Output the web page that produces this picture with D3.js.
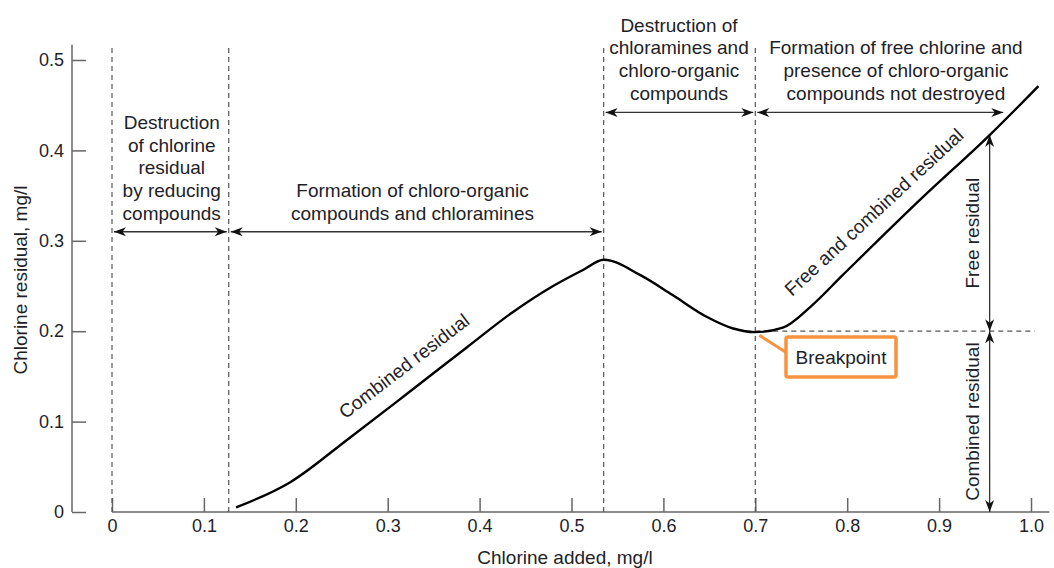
<!DOCTYPE html>
<html>
<head>
<meta charset="utf-8">
<script src="https://cdn.jsdelivr.net/npm/d3@7/dist/d3.min.js"></script>
<style>
  html, body { margin: 0; padding: 0; background: #fff; }
  svg { display: block; }
  text { font-family: "Liberation Sans", Arial, sans-serif; font-size: 19px; fill: #1e2227; }
</style>
</head>
<body>
<svg id="chart" width="1054" height="568"></svg>
<script>
// Breakpoint chlorination curve: chlorine added vs. chlorine residual (mg/l)
const chlorineAdded    = [0.135, 0.194, 0.256, 0.320, 0.386, 0.436, 0.480, 0.513, 0.535, 0.575, 0.610, 0.647, 0.676, 0.700, 0.730, 0.760, 0.795, 0.882, 0.955, 1.008];
const chlorineResidual = [0.005, 0.033, 0.080, 0.130, 0.182, 0.221, 0.250, 0.268, 0.279, 0.262, 0.240, 0.216, 0.203, 0.199, 0.204, 0.227, 0.262, 0.348, 0.417, 0.471];

const xTickValues = [0, 0.1, 0.2, 0.3, 0.4, 0.5, 0.6, 0.7, 0.8, 0.9, 1.0];
const xTickLabels = ["0", "0.1", "0.2", "0.3", "0.4", "0.5", "0.6", "0.7", "0.8", "0.9", "1.0"];
const yTickValues = [0, 0.1, 0.2, 0.3, 0.4, 0.5];
const yTickLabels = ["0", "0.1", "0.2", "0.3", "0.4", "0.5"];

// Zone boundaries (dashed verticals) along the chlorine-added axis
const zoneBounds = [0, 0.127, 0.535, 0.7];
const breakpoint = [0.7, 0.2];
const freeResidualTop = 0.417;
const residualArrowX = 0.955;

// Zone descriptions: [xStart, xEnd, arrowY, textCenterX, lines]
const lowerZones = [
  [0, 0.127, 0.31, 0.065, ["Destruction", "of chlorine", "residual", "by reducing", "compounds"]],
  [0.127, 0.535, 0.31, 0.327, ["Formation of chloro-organic", "compounds and chloramines"]]
];
const upperZones = [
  [0.535, 0.7, 0.442, 0.617, ["Destruction of", "chloramines and", "chloro-organic", "compounds"]],
  [0.7, 0.972, 0.442, 0.853, ["Formation of free chlorine and", "presence of chloro-organic", "compounds not destroyed"]]
];

const svg = d3.select("#chart");
const x = d3.scaleLinear().domain([0, 1]).range([112, 1031]);
const y = d3.scaleLinear().domain([0, 0.5]).range([512, 60]);
const axisColor = "#666";
const dashColor = "#555";

// Arrowhead marker
const defs = svg.append("defs");
defs.append("marker")
  .attr("id", "head")
  .attr("viewBox", "-13 -6 14 12")
  .attr("refX", 0).attr("refY", 0)
  .attr("markerWidth", 14).attr("markerHeight", 12)
  .attr("markerUnits", "userSpaceOnUse")
  .attr("orient", "auto-start-reverse")
  .append("path")
  .attr("d", "M0,0 L-12,-4.5 L-8.5,0 L-12,4.5 Z")
  .attr("fill", "#111");

// Y axis
const yAxis = d3.axisLeft(y).tickValues(yTickValues)
  .tickFormat((d, i) => yTickLabels[i])
  .tickSizeInner(-14).tickSizeOuter(0).tickPadding(8);
const gy = svg.append("g").attr("transform", "translate(72,0)").call(yAxis);
gy.select(".domain").remove();
gy.selectAll(".tick line").attr("stroke", axisColor).attr("stroke-width", 1.5);
gy.selectAll(".tick text").style("font-size", "18px").attr("fill", "#1e2227");
gy.append("line").attr("x1", 0).attr("x2", 0).attr("y1", y(0)).attr("y2", y(0.517))
  .attr("stroke", axisColor).attr("stroke-width", 1.5);

// X axis
const xAxis = d3.axisBottom(x).tickValues(xTickValues)
  .tickFormat((d, i) => xTickLabels[i])
  .tickSizeInner(-14).tickSizeOuter(0).tickPadding(7);
const gx = svg.append("g").attr("transform", `translate(0,${y(0)})`).call(xAxis);
gx.select(".domain").remove();
gx.selectAll(".tick line").attr("stroke", axisColor).attr("stroke-width", 1.5);
gx.selectAll(".tick text").style("font-size", "18px").attr("fill", "#1e2227");
gx.append("line").attr("x1", x(0)).attr("x2", x(1.02)).attr("y1", 0).attr("y2", 0)
  .attr("stroke", axisColor).attr("stroke-width", 1.5);

// Axis titles
svg.append("text").attr("x", 565).attr("y", 557).attr("dy", "0.35em").attr("text-anchor", "middle")
  .text("Chlorine added, mg/l");
svg.append("text").attr("transform", "translate(20,280) rotate(-90)")
  .attr("text-anchor", "middle").attr("dy", "0.35em").text("Chlorine residual, mg/l");

// Dashed zone boundaries
svg.append("g").selectAll("line").data(zoneBounds).join("line")
  .attr("x1", d => x(d)).attr("x2", d => x(d))
  .attr("y1", y(0)).attr("y2", y(0.517))
  .attr("stroke", dashColor).attr("stroke-width", 1.2).attr("stroke-dasharray", "5,4");

// Breakpoint horizontal dashed line
svg.append("line")
  .attr("x1", x(breakpoint[0])).attr("x2", x(1.004))
  .attr("y1", y(breakpoint[1])).attr("y2", y(breakpoint[1]))
  .attr("stroke", dashColor).attr("stroke-width", 1.2).attr("stroke-dasharray", "5,4");

// Zone arrows and descriptions
const lineH = 22.7;
function zone(z, lastLineY) {
  const [x0, x1, ay, tx, lines] = z;
  svg.append("line")
    .attr("x1", x(x0) + 2).attr("x2", x(x1) - 2)
    .attr("y1", y(ay)).attr("y2", y(ay))
    .attr("stroke", "#333").attr("stroke-width", 1.3)
    .attr("marker-start", "url(#head)").attr("marker-end", "url(#head)");
  const cx = x(tx);
  const t = svg.append("text").attr("text-anchor", "middle");
  lines.forEach((s, i) => {
    t.append("tspan").attr("x", cx)
      .attr("y", lastLineY - (lines.length - 1 - i) * lineH)
      .attr("dy", "0.35em").text(s);
  });
}
zone(lowerZones[0], 213);
zone(lowerZones[1], 213);
zone(upperZones[0], 93);
zone(upperZones[1], 93);

// Free / combined residual arrows
svg.append("line")
  .attr("x1", x(residualArrowX)).attr("x2", x(residualArrowX))
  .attr("y1", y(freeResidualTop)).attr("y2", y(breakpoint[1]))
  .attr("stroke", "#333").attr("stroke-width", 1.3)
  .attr("marker-start", "url(#head)").attr("marker-end", "url(#head)");
svg.append("line")
  .attr("x1", x(residualArrowX)).attr("x2", x(residualArrowX))
  .attr("y1", y(breakpoint[1])).attr("y2", y(0))
  .attr("stroke", "#333").attr("stroke-width", 1.3)
  .attr("marker-start", "url(#head)").attr("marker-end", "url(#head)");
svg.append("text")
  .attr("transform", `translate(${x(residualArrowX) - 17},${(y(freeResidualTop) + y(breakpoint[1])) / 2}) rotate(-90)`)
  .attr("text-anchor", "middle").attr("dy", "0.35em").text("Free residual");
svg.append("text")
  .attr("transform", `translate(${x(residualArrowX) - 17},${(y(0) + y(breakpoint[1])) / 2}) rotate(-90)`)
  .attr("text-anchor", "middle").attr("dy", "0.35em").text("Combined residual");

// Residual curve
const pts = chlorineAdded.map((d, i) => [d, chlorineResidual[i]]);
svg.append("path")
  .datum(pts)
  .attr("fill", "none").attr("stroke", "#000").attr("stroke-width", 2.4)
  .attr("d", d3.line().x(d => x(d[0])).y(d => y(d[1])).curve(d3.curveMonotoneX));

// Labels along the curve
svg.append("text").attr("transform", "translate(404,366) rotate(-37.5)")
  .attr("text-anchor", "middle").attr("dy", "0.35em").text("Combined residual");
svg.append("text").attr("transform", "translate(874,212) rotate(-42.8)")
  .attr("text-anchor", "middle").attr("dy", "0.35em").text("Free and combined residual");

// Breakpoint callout
const bx = x(breakpoint[0]), by = y(breakpoint[1]);
svg.append("line").attr("x1", bx + 4).attr("y1", by + 4).attr("x2", 787).attr("y2", 353)
  .attr("stroke", "#F7933F").attr("stroke-width", 3);
svg.append("rect").attr("x", 786).attr("y", 337).attr("width", 110).attr("height", 40)
  .attr("rx", 2).attr("fill", "#fff").attr("stroke", "#F7933F").attr("stroke-width", 3.5);
svg.append("text").attr("x", 841).attr("y", 357).attr("text-anchor", "middle")
  .attr("dy", "0.35em").text("Breakpoint");
</script>
</body>
</html>
